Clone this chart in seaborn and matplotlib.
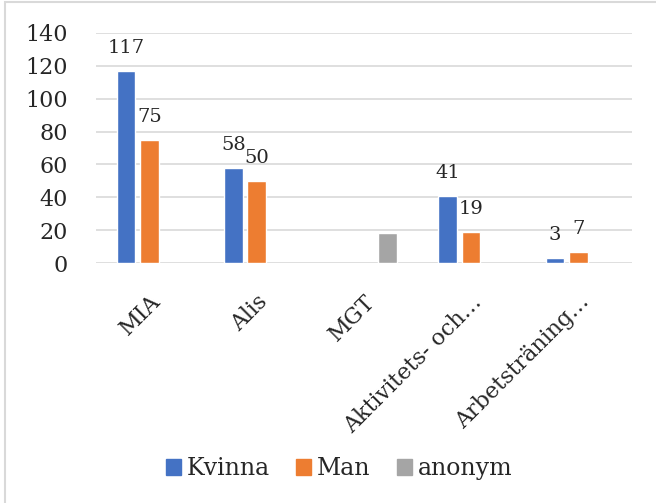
import pandas as pd
import matplotlib.pyplot as plt
import seaborn as sns
from matplotlib.patches import Patch, Rectangle

# Data
categories = ["MIA", "Alis", "MGT", "Aktivitets- och…", "Arbetsträning…"]
series = ["Kvinna", "Man", "anonym"]
kvinna = [117, 58, None, 41, 3]
man = [75, 50, None, 19, 7]
anonym = [None, None, 18, None, None]
colors = ["#4472C4", "#ED7D31", "#A5A5A5"]

# Long format table for seaborn
rows = []
for name, values in zip(series, [kvinna, man, anonym]):
    for cat, v in zip(categories, values):
        if v is not None:
            rows.append({"Kategori": cat, "Kön": name, "Antal": v})
df = pd.DataFrame(rows)

sns.set_style("white")
plt.rcParams["font.family"] = ["DejaVu Serif"]

fig = plt.figure(figsize=(6.56, 5.03), dpi=100)
ax = fig.add_axes([0.1463, 0.4771, 0.8171, 0.4573])

sns.barplot(data=df, x="Kategori", y="Antal", hue="Kön", order=categories,
            hue_order=series, palette=colors, width=0.658, gap=0.21,
            saturation=1, errorbar=None, legend=False, ax=ax)

# Value labels for Kvinna and Man only
for container, name in zip(ax.containers, series):
    if name != "anonym":
        ax.bar_label(container, fmt="%d", padding=10, fontsize=14)

ax.set_ylim(0, 140)
ax.set_yticks(range(0, 141, 20))
ax.set_xlabel("")
ax.set_ylabel("")
ax.yaxis.grid(True, color="#d9d9d9", linewidth=1.2)
ax.set_axisbelow(True)
sns.despine(ax=ax, left=True, bottom=True)

ax.tick_params(axis="y", length=0, pad=20, labelsize=16)
ax.tick_params(axis="x", length=0, pad=20, labelsize=16)
plt.setp(ax.get_xticklabels(), rotation=45, ha="right", va="top",
         rotation_mode="anchor")

handles = [Patch(color=c, label=s) for c, s in zip(colors, series)]
fig.legend(handles=handles, loc="center", bbox_to_anchor=(0.517, 0.0676),
           ncol=3, frameon=False, fontsize=17, handlelength=0.635,
           handleheight=0.635, handletextpad=0.25, columnspacing=1.1)

# Light frame around the chart area (cropped on the right and bottom)
fig.add_artist(Rectangle((5 / 656, -0.1), 1.2, 1 - 2 / 503 + 0.1,
                         transform=fig.transFigure, fill=False,
                         edgecolor="#d9d9d9", linewidth=1.5))

fig.savefig("out.png", dpi=100)
